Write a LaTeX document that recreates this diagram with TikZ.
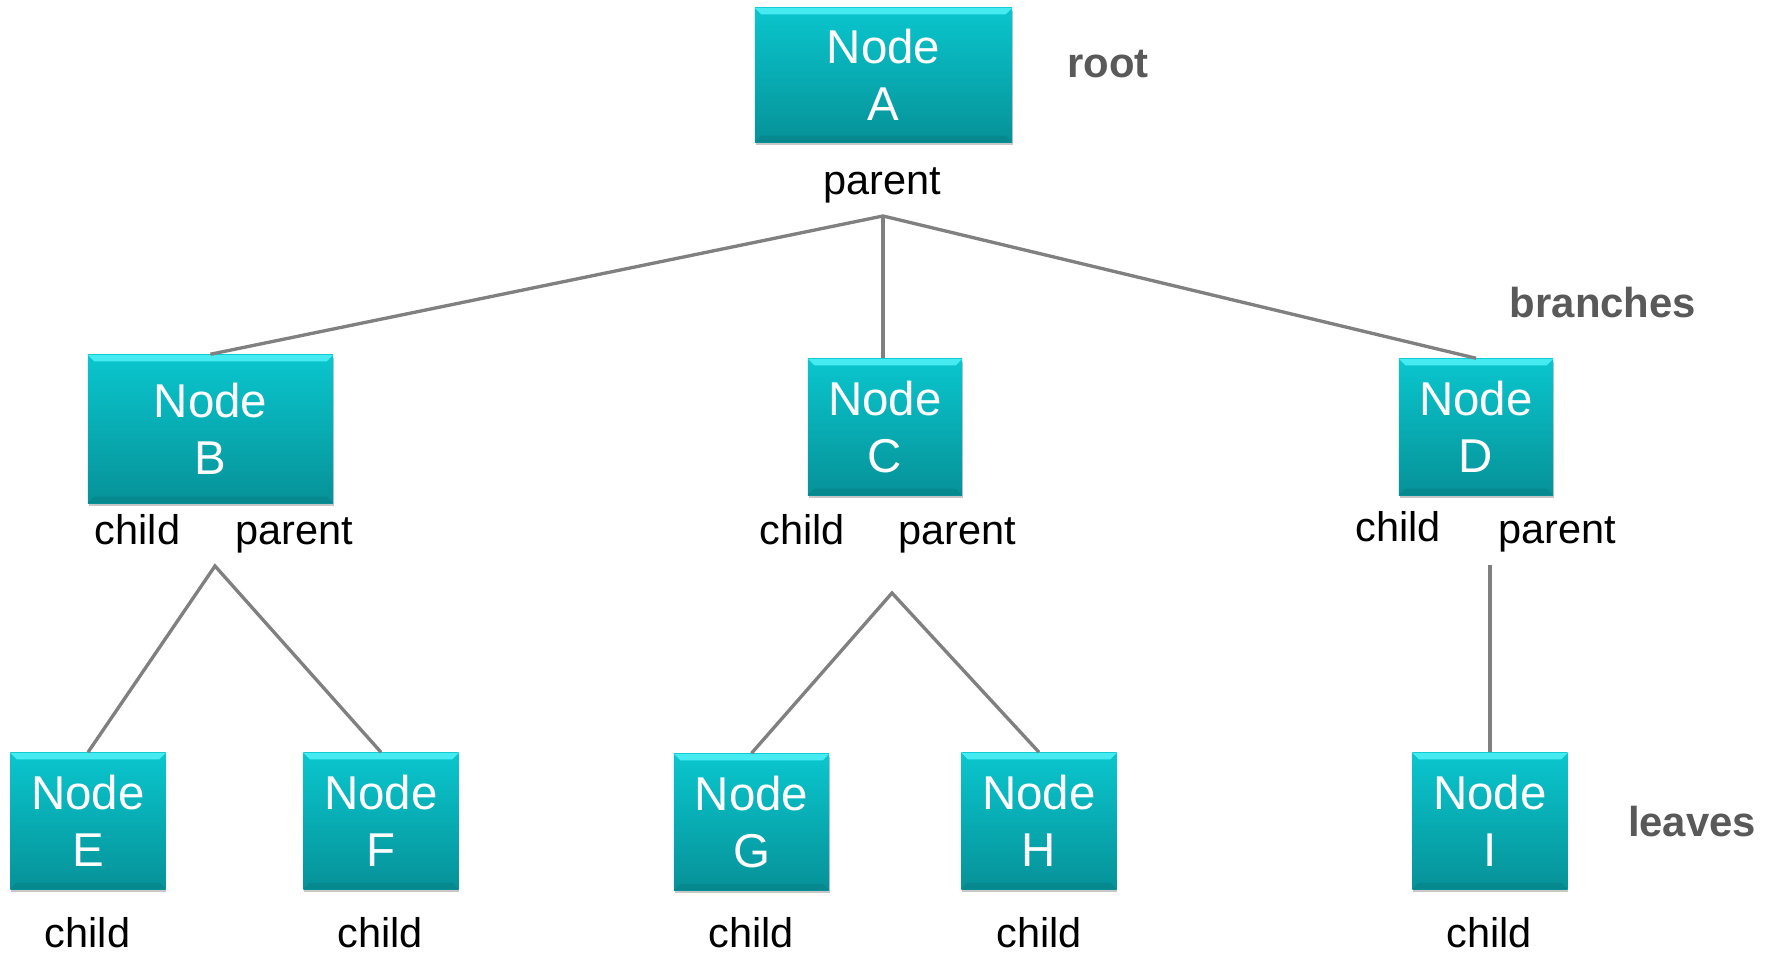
\documentclass[tikz,border=0pt]{standalone}
\usepackage{fontspec}
\setmainfont{Liberation Sans}
\usetikzlibrary{shadows}
\definecolor{boxtop}{RGB}{10,198,206}
\definecolor{boxbot}{RGB}{6,146,152}
\definecolor{bevel}{RGB}{80,242,247}
\definecolor{lblgrey}{RGB}{89,89,89}
\definecolor{edgegrey}{RGB}{128,128,128}
\begin{document}
\begin{tikzpicture}[x=0.01cm,y=-0.01cm,
  treebox/.style={rectangle, inner sep=0pt, top color=boxtop, bottom color=boxbot,
    text=white, font=\fontsize{13.5}{16.2}\selectfont, align=center,
    drop shadow={shadow xshift=0.2pt, shadow yshift=-0.9pt, opacity=0.22, fill=black},
    path picture={\fill[bevel,opacity=0.85] (path picture bounding box.north west) -- (path picture bounding box.north east) -- ([xshift=-1.8pt,yshift=-1.8pt]path picture bounding box.north east) -- ([xshift=1.8pt,yshift=-1.8pt]path picture bounding box.north west) -- cycle;
    \fill[black,opacity=0.07] (path picture bounding box.south west) -- (path picture bounding box.south east) -- ([xshift=-1.8pt,yshift=1.8pt]path picture bounding box.south east) -- ([xshift=1.8pt,yshift=1.8pt]path picture bounding box.south west) -- cycle;}},
  rolelbl/.style={anchor=base, text=black, font=\fontsize{11.8}{14}\selectfont, inner sep=0pt},
  levellbl/.style={anchor=base, text=lblgrey, font=\bfseries\fontsize{11.9}{14}\selectfont, inner sep=0pt},
  treeedge/.style={draw=edgegrey, line width=0.95pt}]
\useasboundingbox[fill=white] (0,0) rectangle (1771,955);

% boxes
\node[treebox, minimum width=2.57cm, minimum height=1.34cm] (A) at (883.5,75) {Node\\A};
\node[treebox, minimum width=2.45cm, minimum height=1.48cm] (B) at (210.5,429) {Node\\B};
\node[treebox, minimum width=1.54cm, minimum height=1.36cm] (C) at (885,427) {Node\\C};
\node[treebox, minimum width=1.54cm, minimum height=1.36cm] (D) at (1476,427) {Node\\D};
\node[treebox, minimum width=1.55cm, minimum height=1.36cm] (E) at (88,821) {Node\\E};
\node[treebox, minimum width=1.55cm, minimum height=1.36cm] (F) at (381,821) {Node\\F};
\node[treebox, minimum width=1.55cm, minimum height=1.36cm] (G) at (751.5,822) {Node\\G};
\node[treebox, minimum width=1.55cm, minimum height=1.36cm] (H) at (1039,821) {Node\\H};
\node[treebox, minimum width=1.55cm, minimum height=1.36cm] (I) at (1490,821) {Node\\I};

% role labels
\node[rolelbl] (pA) at (882,195) {parent};
\node[rolelbl] (cB) at (137.5,545) {child};
\node[rolelbl] (pB) at (294,545) {parent};
\node[rolelbl] (cC) at (802,545) {child};
\node[rolelbl] (pC) at (957,545) {parent};
\node[rolelbl] (cD) at (1398,542) {child};
\node[rolelbl] (pD) at (1557,544) {parent};
\node[rolelbl] (cE) at (87.5,948) {child};
\node[rolelbl] (cF) at (380,948) {child};
\node[rolelbl] (cG) at (751,948) {child};
\node[rolelbl] (cH) at (1039,948) {child};
\node[rolelbl] (cI) at (1489,948) {child};

% level labels
\node[levellbl] (root) at (1108,78) {root};
\node[levellbl] (branches) at (1603,318) {branches};
\node[levellbl] (leaves) at (1692,837) {leaves};

% junctions
\coordinate (jA) at (883,216);
\coordinate (jB) at (215,566);
\coordinate (jC) at (892,593);
\coordinate (jD) at (1490,565);

% connectors
\draw[treeedge] (B.north) -- (jA) -- (D.north);
\draw[treeedge] (jA) -- (jA |- C.north);
\draw[treeedge] (E.north) -- (jB) -- (F.north);
\draw[treeedge] (G.north) -- (jC) -- (H.north);
\draw[treeedge] (jD) -- (I.north);
\end{tikzpicture}
\end{document}
